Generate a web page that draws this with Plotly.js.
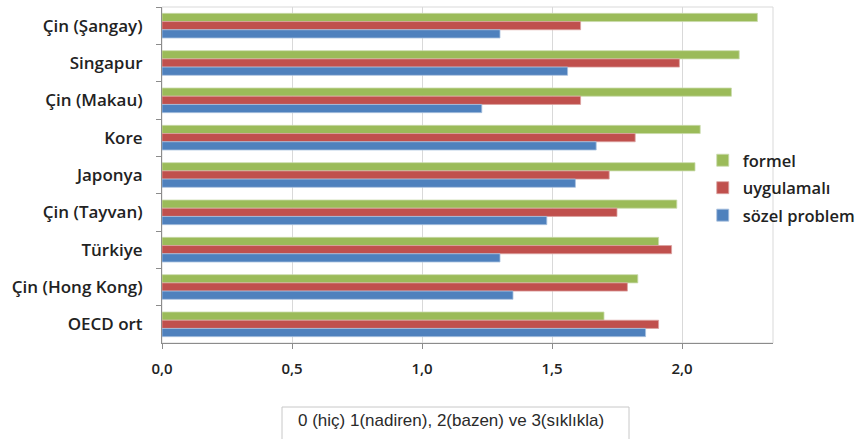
<!DOCTYPE html>
<html>
<head>
<meta charset="utf-8">
<script src="https://cdn.plot.ly/plotly-3.0.1.min.js"></script>
<style>
  html, body { margin: 0; padding: 0; background: #fff; }
  #chart { width: 864px; height: 439px; }
</style>
</head>
<body>
<div id="chart"></div>
<script>
// Countries / economies, listed top to bottom
const countries = [
  "Çin (Şangay)", "Singapur", "Çin (Makau)", "Kore", "Japonya",
  "Çin (Tayvan)", "Türkiye", "Çin (Hong Kong)", "OECD ort"
];

// Mean exposure index per problem type
const formel      = [2.29, 2.22, 2.19, 2.07, 2.05, 1.98, 1.91, 1.83, 1.70];
const uygulamali  = [1.61, 1.99, 1.61, 1.82, 1.72, 1.75, 1.96, 1.79, 1.91];
const sozelProblem = [1.30, 1.56, 1.23, 1.67, 1.59, 1.48, 1.30, 1.35, 1.86];

const seriesNames = ["formel", "uygulamalı", "sözel problem"];
const xTicks = [0, 0.5, 1.0, 1.5, 2.0];
const axisNote = "0 (hiç) 1(nadiren), 2(bazen) ve 3(sıklıkla)";

const colors = ["#9BBB59", "#C0504D", "#4F81BD"];
const edge = ["#c9dbab", "#dca3a1", "#a9c1de"];
const values = [formel, uygulamali, sozelProblem];

const traces = values.map((v, i) => ({
  type: "bar",
  orientation: "h",
  name: seriesNames[i],
  x: v,
  y: countries,
  legendgroup: "g" + i,
  marker: { color: colors[i], line: { color: edge[i], width: 0.8 } },
  hoverinfo: "x+y+name"
}));

const L = 162, R = 91, T = 7, B = 96;
const W = 864 - L - R, H = 439 - T - B;
// pixel helpers for paper coordinates
const px = (x) => (x - L) / W;
const py = (y) => (439 - B - y) / H;

const labelFont = { family: "'Open Sans', Lato, sans-serif", size: 17, weight: 600, color: "#222222" };

const layout = {
  width: 864,
  height: 439,
  margin: { l: L, r: R, t: T, b: B, pad: 0, autoexpand: false },
  paper_bgcolor: "#ffffff",
  plot_bgcolor: "#ffffff",
  separators: ", ",
  barmode: "group",
  bargap: 0.34,
  bargroupgap: 0,
  font: labelFont,
  xaxis: {
    range: [0, 2.35],
    tickvals: xTicks,
    tickformat: ".1f",
    showgrid: true,
    gridcolor: "#d9d9d9",
    gridwidth: 1,
    zeroline: false,
    showline: true,
    linecolor: "#8c8c8c",
    linewidth: 1,
    ticks: "outside",
    ticklen: 5,
    tickcolor: "#8c8c8c",
    ticklabelstandoff: 7,
    tickfont: { family: labelFont.family, size: 15, weight: 600, color: "#222222" },
    automargin: false,
    fixedrange: true
  },
  yaxis: {
    type: "category",
    categoryorder: "array",
    categoryarray: countries,
    autorange: "reversed",
    showgrid: false,
    zeroline: false,
    showline: true,
    linecolor: "#8c8c8c",
    linewidth: 1,
    ticks: "outside",
    tickson: "boundaries",
    ticklen: 5,
    tickcolor: "#8c8c8c",
    ticklabelstandoff: 15,
    tickfont: labelFont,
    automargin: false,
    fixedrange: true
  },
  legend: {
    x: 0.885,
    xanchor: "left",
    y: py(143),
    yanchor: "top",
    bgcolor: "rgba(0,0,0,0)",
    font: { family: labelFont.family, size: 16.5, weight: 600, color: "#222222" },
    tracegroupgap: 3,
    traceorder: "grouped"
  },
  shapes: [
    {
      type: "rect", xref: "paper", yref: "paper",
      x0: 0, x1: 1, y0: 0, y1: 1,
      line: { color: "#d9d9d9", width: 1 },
      layer: "below"
    },
    {
      type: "rect", xref: "paper", yref: "paper",
      x0: px(282), x1: px(629), y0: py(448), y1: py(407),
      line: { color: "#c8c8c8", width: 1 },
      fillcolor: "rgba(0,0,0,0)"
    }
  ],
  annotations: [
    {
      text: axisNote,
      xref: "paper", yref: "paper",
      x: px(451), y: py(420),
      xanchor: "center", yanchor: "middle",
      showarrow: false,
      font: { family: "'Liberation Sans', Arial, sans-serif", size: 17, weight: 400, color: "#2a2a2a" }
    }
  ]
};

Plotly.newPlot("chart", traces, layout, { displayModeBar: false, staticPlot: true });
</script>
</body>
</html>
